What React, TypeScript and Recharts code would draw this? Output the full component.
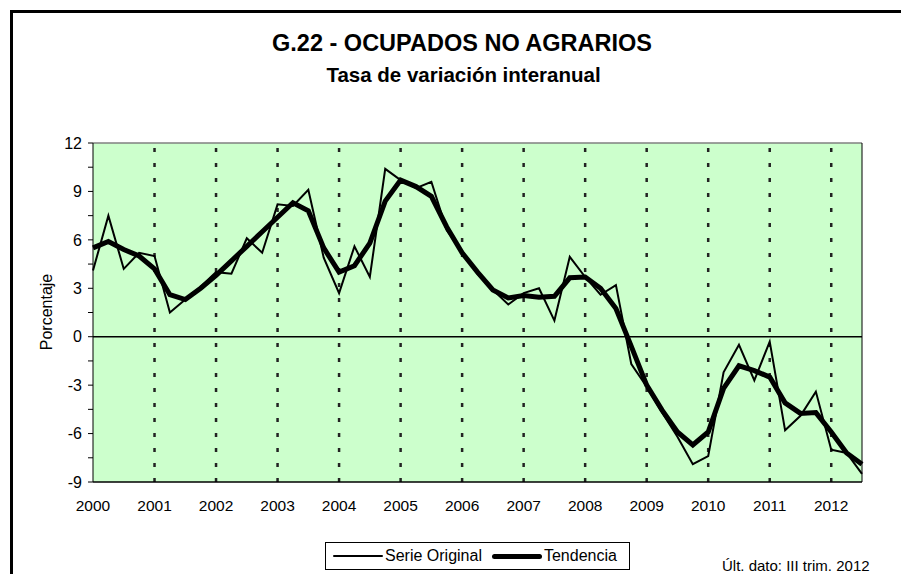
import { CartesianGrid, Legend, Line, LineChart, ReferenceLine, XAxis, YAxis } from "recharts";

const FONT = '"Liberation Sans", Arial, sans-serif';

const years = ["2000", "2001", "2002", "2003", "2004", "2005", "2006", "2007", "2008", "2009", "2010", "2011", "2012"];

// quarterly values, I-2000 .. III-2012
const serieOriginal = [
  4.1, 7.5, 4.2, 5.2, 5.0, 1.5, 2.3, 3.1, 4.0, 3.9, 6.1, 5.2, 8.2, 8.1, 9.1, 4.9, 2.7, 5.6, 3.7, 10.4, 9.7, 9.2, 9.6,
  6.6, 5.3, 3.9, 2.9, 2.0, 2.7, 3.0, 1.0, 4.95, 3.7, 2.6, 3.2, -1.7, -3.1, -4.7, -6.2, -7.9, -7.4, -2.2, -0.5, -2.7,
  -0.3, -5.8, -4.9, -3.4, -7.0, -7.2, -8.5,
];

const tendencia = [
  5.5, 5.9, 5.4, 5.0, 4.2, 2.6, 2.3, 3.0, 3.8, 4.7, 5.6, 6.5, 7.4, 8.3, 7.8, 5.5, 4.0, 4.4, 5.8, 8.4, 9.7, 9.3, 8.7,
  6.8, 5.2, 4.0, 2.9, 2.4, 2.55, 2.45, 2.5, 3.65, 3.7, 3.0, 1.75, -0.6, -3.0, -4.55, -5.9, -6.7, -5.9, -3.2, -1.8,
  -2.1, -2.5, -4.1, -4.75, -4.7, -5.9, -7.2, -7.9,
];

const yTicks = [-9, -7.5, -6, -4.5, -3, -1.5, 0, 1.5, 3, 4.5, 6, 7.5, 9, 10.5, 12];

const data = serieOriginal.map((v, i) => ({ q: i, original: v, tendencia: tendencia[i] }));
const yearTicks = years.map((_, k) => k * 4);

const yLabel = (v: number) => (v % 3 === 0 ? String(v) : "");

function LegendBox() {
  const item = (w: number, label: string) => (
    <span style={{ display: "inline-flex", alignItems: "center" }}>
      <span style={{ display: "inline-block", width: 50, height: w, background: "#000", borderRadius: w / 2 }} />
      <span style={{ marginLeft: 2 }}>{label}</span>
    </span>
  );
  return (
    <div
      style={{
        boxSizing: "border-box",
        width: 305,
        height: 28,
        border: "1px solid #000",
        background: "#fff",
        display: "flex",
        alignItems: "center",
        gap: 10,
        paddingLeft: 7,
        fontSize: 16,
        fontFamily: FONT,
        color: "#000",
      }}
    >
      {item(2, "Serie Original")}
      {item(5, "Tendencia")}
    </div>
  );
}

export default function App() {
  return (
    <div
      style={{
        position: "absolute",
        left: 0,
        top: 0,
        width: 901,
        height: 574,
        background: "#fff",
        overflow: "hidden",
        fontFamily: FONT,
      }}
    >
      <div
        style={{
          position: "absolute",
          left: 10,
          top: 10,
          width: 1000,
          height: 700,
          borderLeft: "3px solid #000",
          borderTop: "3px solid #000",
        }}
      />
      <div
        style={{
          position: "absolute",
          left: 0,
          width: 924,
          top: 30,
          textAlign: "center",
          fontWeight: "bold",
          fontSize: 23.5,
          lineHeight: "normal",
        }}
      >
        G.22 - OCUPADOS NO AGRARIOS
      </div>
      <div
        style={{
          position: "absolute",
          left: 0,
          width: 927,
          top: 63,
          textAlign: "center",
          fontWeight: "bold",
          fontSize: 20.5,
          lineHeight: "normal",
        }}
      >
        Tasa de variación interanual
      </div>
      <div style={{ position: "absolute", left: 0, top: 0 }}>
        <LineChart width={901} height={574} data={data} margin={{ top: 143, right: 4, bottom: 62, left: 33 }}>
          <CartesianGrid yAxisId="left" fill="#ccffcc" horizontal={false} vertical={false} />
          <XAxis
            dataKey="q"
            type="number"
            domain={[0, 50]}
            ticks={yearTicks}
            interval={0}
            tickFormatter={(q: number) => years[q / 4]}
            tickLine={false}
            tickSize={6}
            tickMargin={12}
            axisLine={{ stroke: "#000", strokeWidth: 1.5 }}
            tick={{ fill: "#000", fontSize: 15.5, fontFamily: FONT }}
            height={30}
          />
          <YAxis
            yAxisId="left"
            domain={[-9, 12]}
            ticks={yTicks}
            interval={0}
            tickFormatter={yLabel}
            width={60}
            tickSize={5}
            tickMargin={6}
            tickLine={{ stroke: "#000" }}
            axisLine={{ stroke: "#000" }}
            tick={{ fill: "#000", fontSize: 16, fontFamily: FONT }}
            label={{
              content: () => (
                <text
                  x={52}
                  y={312}
                  transform="rotate(-90 52 312)"
                  textAnchor="middle"
                  fontSize={16}
                  fontFamily={FONT}
                  fill="#000"
                >
                  Porcentaje
                </text>
              ),
            }}
          />
          <YAxis
            yAxisId="right"
            orientation="right"
            domain={[-9, 12]}
            ticks={yTicks}
            interval={0}
            tickFormatter={yLabel}
            width={35}
            tickSize={5}
            tickMargin={8}
            tickLine={{ stroke: "#000" }}
            axisLine={{ stroke: "#000" }}
            tick={{ fill: "#000", fontSize: 16, fontFamily: FONT, textAnchor: "start" }}
          />
          {yearTicks.slice(1).map((q) => (
            <ReferenceLine
              key={q}
              yAxisId="left"
              x={q}
              stroke="#222"
              strokeWidth={2.5}
              strokeDasharray="4 11"
            />
          ))}
          <ReferenceLine yAxisId="left" y={12} stroke="#808080" strokeWidth={1.5} />
          <ReferenceLine yAxisId="left" y={0} stroke="#000" strokeWidth={1.5} />
          <Line
            yAxisId="left"
            type="linear"
            dataKey="original"
            name="Serie Original"
            stroke="#000"
            strokeWidth={2}
            dot={false}
            isAnimationActive={false}
          />
          <Line
            yAxisId="left"
            type="linear"
            dataKey="tendencia"
            name="Tendencia"
            stroke="#000"
            strokeWidth={5}
            dot={false}
            isAnimationActive={false}
          />
          <Legend
            layout="horizontal"
            verticalAlign="middle"
            align="center"
            content={() => <LegendBox />}
            wrapperStyle={{ position: "absolute", left: 325, top: 542, width: 305, height: 28 }}
          />
        </LineChart>
      </div>
      <div style={{ position: "absolute", left: 722, top: 557, fontSize: 15, lineHeight: "normal", color: "#000" }}>
        Últ. dato: III trim. 2012
      </div>
    </div>
  );
}
